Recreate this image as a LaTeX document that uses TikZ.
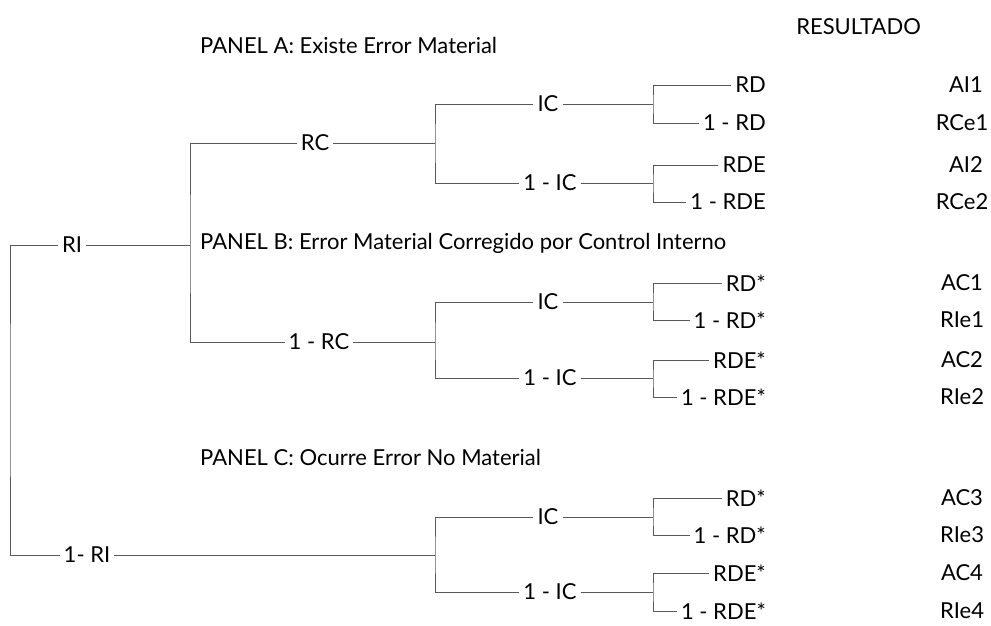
\documentclass[tikz,border=0pt]{standalone}
\usepackage{fontspec}
\setmainfont{Lato}
\usetikzlibrary{positioning}

\begin{document}
\begin{tikzpicture}[x=1pt,y=-1pt,
  every node/.style={font=\fontsize{22}{25}\selectfont, inner xsep=4pt, inner ysep=2pt},
  branch/.style={draw=black!65, line width=0.9pt},
  leaf/.style={anchor=east},
  panel/.style={anchor=west, inner xsep=0pt}]
  \useasboundingbox (0,0) rectangle (991,626);

  % titles
  \node[panel] (pa) at (200,45) {PANEL A: Existe Error Material};
  \node[anchor=east] (res) at (925,27) {RESULTADO};
  \node[panel] (pb) at (200,243) {PANEL B: Error Material Corregido por Control Interno};
  \node[panel] (pc) at (200,457) {PANEL C: Ocurre Error No Material};

  % root
  \node (ri) at (72,245) {RI};
  \node (nri) at (87,555) {1- RI};
  \coordinate (s0) at (10,400);
  \draw[branch] (ri.west) -| (s0) |- (nri.west);

  % RC / 1 - RC
  \node (rc) at (315,143) {RC};
  \node (nrc) at (319,342) {1 - RC};
  \coordinate (s1) at (190,245);
  \draw[branch] (ri.east) -- (s1);
  \draw[branch] (rc.west) -| (s1) |- (nrc.west);

  % panel A
  \node (ica) at (548,104) {IC};
  \node (nica) at (550,183) {1 - IC};
  \coordinate (s2a) at (435,143);
  \draw[branch] (rc.east) -- (s2a);
  \draw[branch] (ica.west) -| (s2a) |- (nica.west);
  \node[leaf] (rda) at (770,85) {RD};
  \node[leaf] (nrda) at (770,123) {1 - RD};
  \node[leaf] (rdea) at (770,165) {RDE};
  \node[leaf] (nrdea) at (770,202) {1 - RDE};
  \coordinate (s3a) at (653,104);
  \coordinate (s4a) at (653,183);
  \draw[branch] (ica.east) -- (s3a);
  \draw[branch] (rda.west) -| (s3a) |- (nrda.west);
  \draw[branch] (nica.east) -- (s4a);
  \draw[branch] (rdea.west) -| (s4a) |- (nrdea.west);

  % panel B
  \node (icb) at (548,302) {IC};
  \node (nicb) at (550,378) {1 - IC};
  \coordinate (s2b) at (435,342);
  \draw[branch] (nrc.east) -- (s2b);
  \draw[branch] (icb.west) -| (s2b) |- (nicb.west);
  \node[leaf] (rdb) at (770,283) {RD*};
  \node[leaf] (nrdb) at (770,320) {1 - RD*};
  \node[leaf] (rdeb) at (770,360) {RDE*};
  \node[leaf] (nrdeb) at (770,397) {1 - RDE*};
  \coordinate (s3b) at (653,302);
  \coordinate (s4b) at (653,378);
  \draw[branch] (icb.east) -- (s3b);
  \draw[branch] (rdb.west) -| (s3b) |- (nrdb.west);
  \draw[branch] (nicb.east) -- (s4b);
  \draw[branch] (rdeb.west) -| (s4b) |- (nrdeb.west);

  % panel C
  \node (icc) at (548,517) {IC};
  \node (nicc) at (550,592) {1 - IC};
  \coordinate (s2c) at (435,555);
  \draw[branch] (nri.east) -- (s2c);
  \draw[branch] (icc.west) -| (s2c) |- (nicc.west);
  \node[leaf] (rdc) at (770,498) {RD*};
  \node[leaf] (nrdc) at (770,535) {1 - RD*};
  \node[leaf] (rdec) at (770,573) {RDE*};
  \node[leaf] (nrdec) at (770,611) {1 - RDE*};
  \coordinate (s3c) at (653,517);
  \coordinate (s4c) at (653,592);
  \draw[branch] (icc.east) -- (s3c);
  \draw[branch] (rdc.west) -| (s3c) |- (nrdc.west);
  \draw[branch] (nicc.east) -- (s4c);
  \draw[branch] (rdec.west) -| (s4c) |- (nrdec.west);

  % results
  \node (ai1) at (966,85) {AI1};
  \node (rce1) at (962,123) {RCe1};
  \node (ai2) at (966,165) {AI2};
  \node (rce2) at (962,202) {RCe2};
  \node (ac1) at (962,283) {AC1};
  \node (rie1) at (962,320) {RIe1};
  \node (ac2) at (962,360) {AC2};
  \node (rie2) at (962,397) {RIe2};
  \node (ac3) at (962,498) {AC3};
  \node (rie3) at (962,535) {RIe3};
  \node (ac4) at (962,573) {AC4};
  \node (rie4) at (962,611) {RIe4};
\end{tikzpicture}
\end{document}
